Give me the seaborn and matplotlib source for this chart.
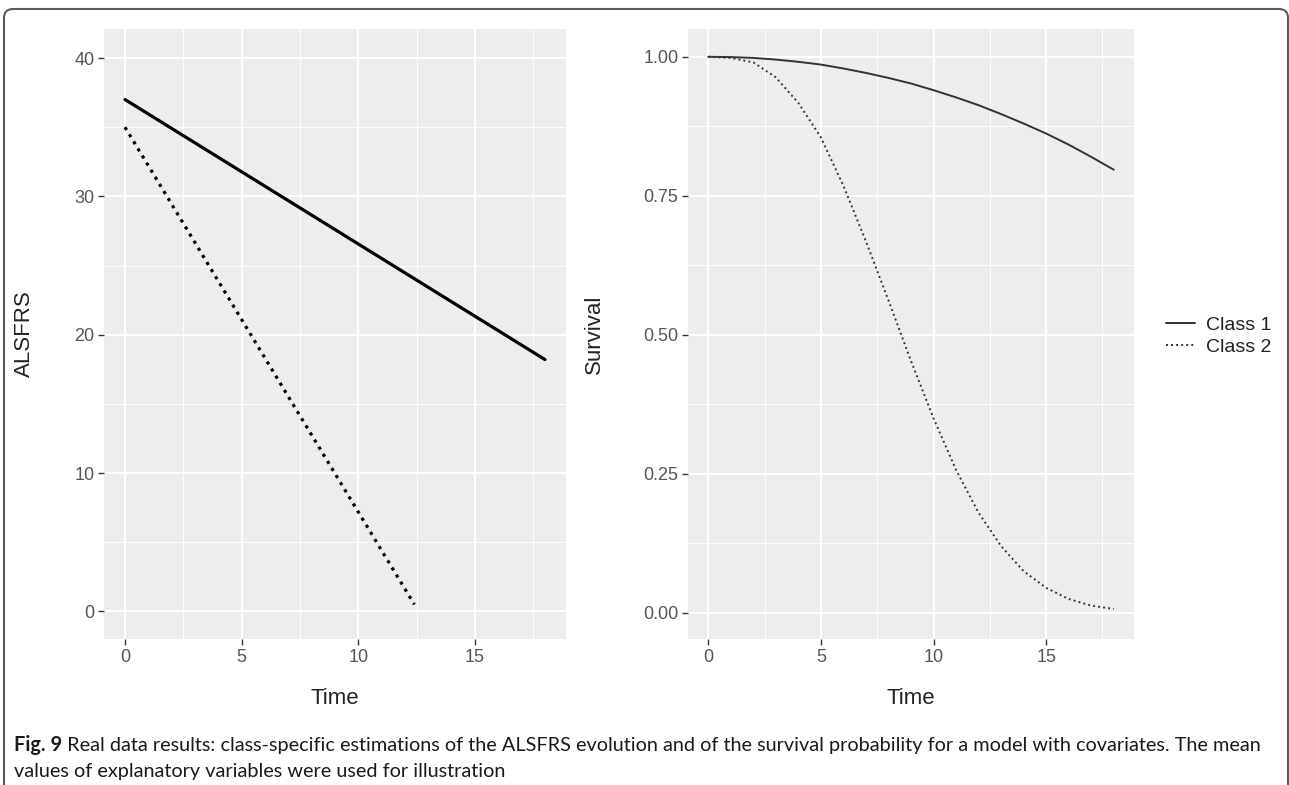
import numpy as np
import pandas as pd
import matplotlib
matplotlib.use("Agg")
import matplotlib.pyplot as plt
import seaborn as sns
from matplotlib.patches import FancyBboxPatch
from matplotlib.transforms import IdentityTransform
from matplotlib.ticker import MultipleLocator

# --- DATA ---
classes = ["Class 1", "Class 2"]

# ALSFRS evolution (straight lines, endpoints)
alsfrs_time_c1 = [0, 18]
alsfrs_c1 = [37.0, 18.2]
alsfrs_time_c2 = [0, 12.4]
alsfrs_c2 = [35.0, 0.5]

# survival probability read at integer times
surv_time = list(range(19))
surv_c1 = [1.0, 0.9995, 0.998, 0.995, 0.991, 0.986, 0.979, 0.971, 0.962, 0.952,
           0.94, 0.927, 0.913, 0.897, 0.88, 0.862, 0.842, 0.82, 0.797]
surv_c2 = [1.0, 0.998, 0.99, 0.963, 0.917, 0.855, 0.768, 0.668, 0.562, 0.453,
           0.35, 0.257, 0.18, 0.12, 0.075, 0.045, 0.025, 0.013, 0.007]

x_ticks = [0, 5, 10, 15]
alsfrs_ticks = [0, 10, 20, 30, 40]
surv_ticks = [0.0, 0.25, 0.5, 0.75, 1.0]
surv_ticklabels = ["0.00", "0.25", "0.50", "0.75", "1.00"]

caption_bold = "Fig. 9"
caption_line1 = (" Real data results: class-specific estimations of the ALSFRS evolution "
                 "and of the survival probability for a model with covariates. The mean")
caption_line2 = "values of explanatory variables were used for illustration"

alsfrs_df = pd.DataFrame({
    "Time": alsfrs_time_c1 + alsfrs_time_c2,
    "ALSFRS": alsfrs_c1 + alsfrs_c2,
    "Class": [classes[0]] * len(alsfrs_c1) + [classes[1]] * len(alsfrs_c2),
})
surv_df = pd.DataFrame({
    "Time": surv_time + surv_time,
    "Survival": surv_c1 + surv_c2,
    "Class": [classes[0]] * len(surv_c1) + [classes[1]] * len(surv_c2),
})

# --- STYLE ---
sns.set_style("white")
plt.rcParams["font.family"] = ["Liberation Sans", "DejaVu Sans"]

W, H = 1289, 785
fig = plt.figure(figsize=(W / 100, H / 100), dpi=100)

def px_axes(x0, y0, x1, y1):
    return fig.add_axes([x0 / W, 1 - y1 / H, (x1 - x0) / W, (y1 - y0) / H])

ax1 = px_axes(104, 29, 566, 639)
ax2 = px_axes(688, 29, 1134, 639)

dashes = {classes[0]: "", classes[1]: (1, 1.6)}

sns.lineplot(data=alsfrs_df, x="Time", y="ALSFRS", style="Class", dashes=dashes,
             color="black", linewidth=2.3, ax=ax1, legend=False)
sns.lineplot(data=surv_df, x="Time", y="Survival", style="Class", dashes=dashes,
             color="#333333", linewidth=1.4, ax=ax2, legend=False)

ax1.set_xlim(-0.9, 18.9)
ax1.set_ylim(-2.0, 42.1)
ax2.set_xlim(-0.9, 18.9)
ax2.set_ylim(-0.047, 1.05)

ax1.set_yticks(alsfrs_ticks)
ax1.yaxis.set_minor_locator(MultipleLocator(5))
ax2.set_yticks(surv_ticks)
ax2.set_yticklabels(surv_ticklabels)
ax2.yaxis.set_minor_locator(MultipleLocator(0.125))

for ax in (ax1, ax2):
    ax.set_facecolor("#EDEDED")
    ax.set_xticks(x_ticks)
    ax.xaxis.set_minor_locator(MultipleLocator(2.5))
    for s in ax.spines.values():
        s.set_visible(False)
    ax.grid(True, which="major", color="white", linewidth=1.4)
    ax.grid(True, which="minor", color="white", linewidth=0.7)
    ax.set_axisbelow(True)
    ax.tick_params(which="major", direction="out", length=4, width=1,
                   color="#333333", labelcolor="#555555", labelsize=13, pad=3,
                   bottom=True, left=True)
    ax.tick_params(which="minor", length=0)
    ax.set_xlabel("Time", fontsize=16, color="#222222")
    ax.xaxis.label.set_va("center")
    ax.xaxis.set_label_coords(0.5, (639 - 698) / 610)

ax1.set_ylabel("ALSFRS", fontsize=16, color="#222222")
ax1.yaxis.set_label_coords((35 - 104) / 462, 0.5)
ax2.set_ylabel("Survival", fontsize=16, color="#222222")
ax2.yaxis.set_label_coords((605 - 688) / 446, 0.5)

# legend built from the right panel lines
handles = ax2.get_lines()[:2]
leg = fig.legend(handles, classes, loc="center left",
                 bbox_to_anchor=(1148 / W, 1 - 336 / H), frameon=False,
                 fontsize=14, handlelength=1.5, handletextpad=0.6,
                 labelspacing=0.2, labelcolor="#222222")

# outer rounded frame
frame = FancyBboxPatch((4, -20), 1284, 776 + 20, transform=IdentityTransform(),
                       boxstyle="round,pad=0,rounding_size=9", fill=False,
                       edgecolor="#5A5A5A", linewidth=1.5, zorder=10)
fig.patches.append(frame)

# caption
cap_kw = dict(fontsize=14.3, family=["Lato", "DejaVu Sans"], va="center", color="#1a1a1a")
t_bold = fig.text(14 / W, 1 - 745 / H, caption_bold, fontweight="bold", **cap_kw)
fig.canvas.draw()
bb = t_bold.get_window_extent()
fig.text(bb.x1 / W, 1 - 745 / H, caption_line1, **cap_kw)
fig.text(14 / W, 1 - 772 / H, caption_line2, **cap_kw)

fig.savefig("out.png", dpi=100)
